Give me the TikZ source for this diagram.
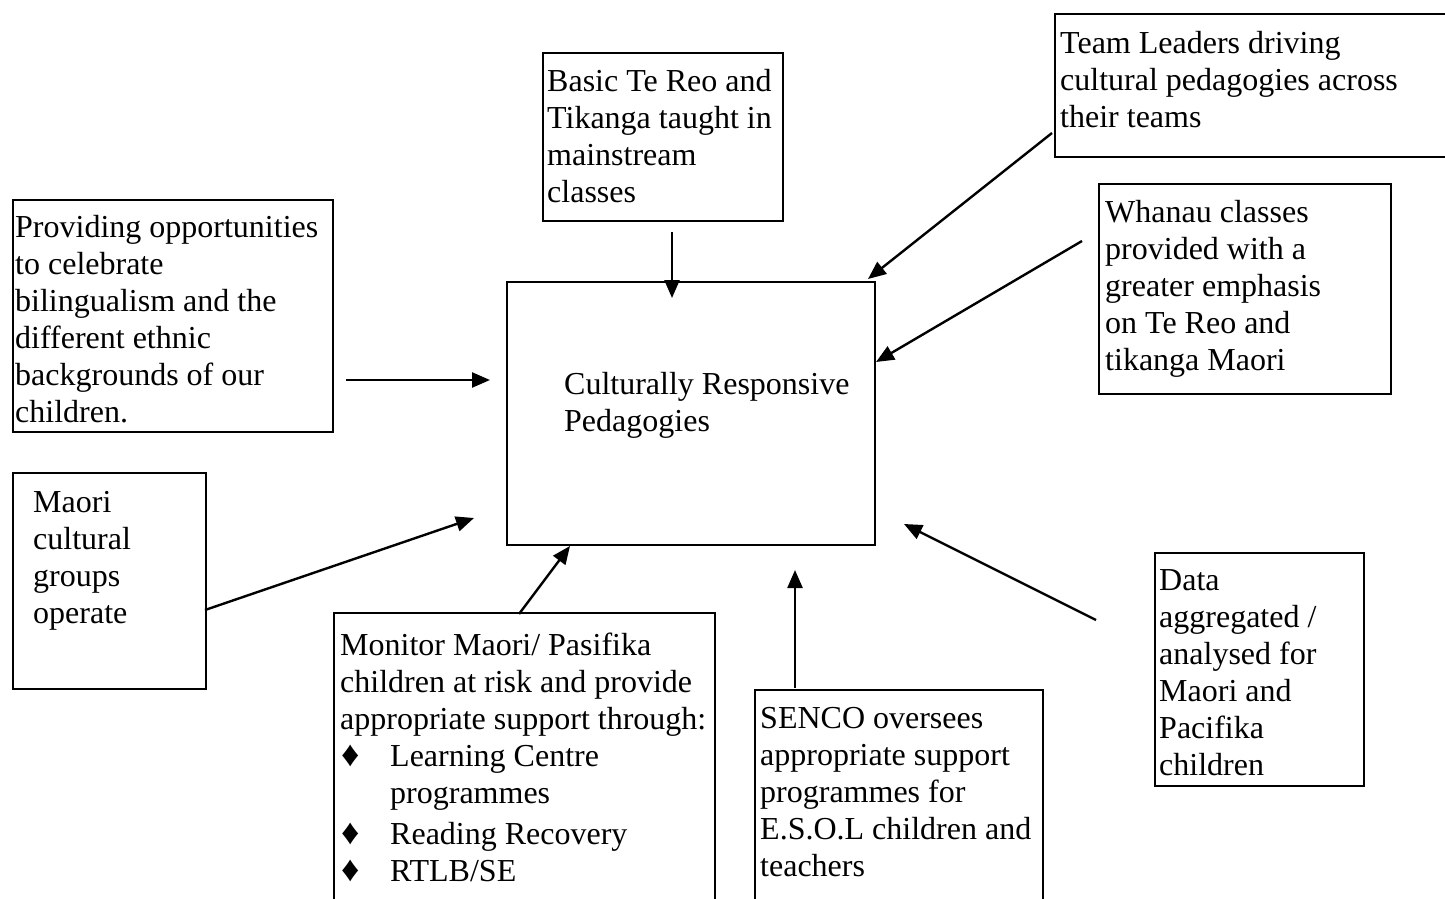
\documentclass[tikz,border=0pt]{standalone}
\usepackage{fontspec}
\setmainfont{Liberation Serif}
\usetikzlibrary{arrows.meta}
\newcommand{\bigfs}{\fontsize{32}{37}\selectfont}
\newcommand{\fl}{\rule{0pt}{26pt}}
\newcommand{\dia}{\makebox[50pt][l]{\hspace{1pt}{\fontsize{36}{37}\selectfont ♦}}}
\tikzset{
  box/.style={draw, line width=1.8pt, anchor=north west, inner sep=0pt},
  txt/.style={anchor=north west, inner sep=0pt, align=left, font=\bigfs},
  arr/.style={line width=2.4pt, -{Triangle[length=18pt,width=15pt]}},
}
\begin{document}
\begin{tikzpicture}[x=1pt,y=-1pt]
\useasboundingbox (0,0) rectangle (1445,899);
\clip (0,0) rectangle (1445,899);
\fill[white] (0,0) rectangle (1445,899);

% boxes
\node[box, minimum width=240pt, minimum height=168pt] (basicbox) at (542,52) {};
\node[box, minimum width=420pt, minimum height=143pt] (teambox) at (1054,13) {};
\node[box, minimum width=292pt, minimum height=210pt] (whanaubox) at (1098,183) {};
\node[box, minimum width=320pt, minimum height=232pt] (provbox) at (12,199) {};
\node[box, minimum width=368pt, minimum height=263pt] (centbox) at (506,281) {};
\node[box, minimum width=193pt, minimum height=216pt] (maoribox) at (12,472) {};
\node[box, minimum width=381pt, minimum height=310pt] (monbox) at (333,612) {};
\node[box, minimum width=288pt, minimum height=230pt] (sencobox) at (754,689) {};
\node[box, minimum width=209pt, minimum height=233pt] (databox) at (1154,552) {};

% texts
\node[txt] (basictxt) at (547,65) {\fl Basic Te Reo and\\Tikanga taught in\\mainstream\\classes};
\node[txt] (teamtxt) at (1060,27) {\fl Team Leaders driving\\cultural pedagogies across\\their teams};
\node[txt] (whanautxt) at (1105,196) {\fl Whanau classes\\provided with a\\greater emphasis\\on Te Reo and\\tikanga Maori};
\node[txt] (provtxt) at (15,211) {\fl Providing opportunities\\to celebrate\\bilingualism and the\\different ethnic\\backgrounds of our\\children.};
\node[txt] (centtxt) at (564,368) {\fl Culturally Responsive\\Pedagogies};
\node[txt] (maoritxt) at (33,486) {\fl Maori\\cultural\\groups\\operate};
\node[txt] (montxt) at (340,629) {\fl Monitor Maori/ Pasifika\\children at risk and provide\\appropriate support through:\\\dia Learning Centre\\\hspace*{50pt}programmes\\[4pt]\dia Reading Recovery\\\dia RTLB/SE};
\node[txt] (sencotxt) at (760,702) {\fl SENCO oversees\\appropriate support\\programmes for\\E.S.O.L children and\\teachers};
\node[txt] (datatxt) at (1159,564) {\fl Data\\aggregated /\\analysed for\\Maori and\\Pacifika\\children};

% connector ends
\coordinate (basicS) at (672,232);
\coordinate (basicE) at (672,298);
\coordinate (teamS) at (1052,133);
\coordinate (teamE) at (868,279);
\coordinate (whanauS) at (1082,241);
\coordinate (whanauE) at (876,362);
\coordinate (provS) at (346,380);
\coordinate (provE) at (490,380);
\coordinate (maoriS) at (205,610);
\coordinate (maoriE) at (474,518);
\coordinate (monS) at (519,614);
\coordinate (monE) at (570,546);
\coordinate (sencoS) at (795,688);
\coordinate (sencoE) at (795,570);
\coordinate (dataS) at (1096,620);
\coordinate (dataE) at (904,524);

\draw[arr] (basicS) -- (basicE);
\draw[arr] (teamS) -- (teamE);
\draw[arr] (whanauS) -- (whanauE);
\draw[arr] (provS) -- (provE);
\draw[arr] (maoriS) -- (maoriE);
\draw[arr] (monS) -- (monE);
\draw[arr] (sencoS) -- (sencoE);
\draw[arr] (dataS) -- (dataE);
\end{tikzpicture}
\end{document}
